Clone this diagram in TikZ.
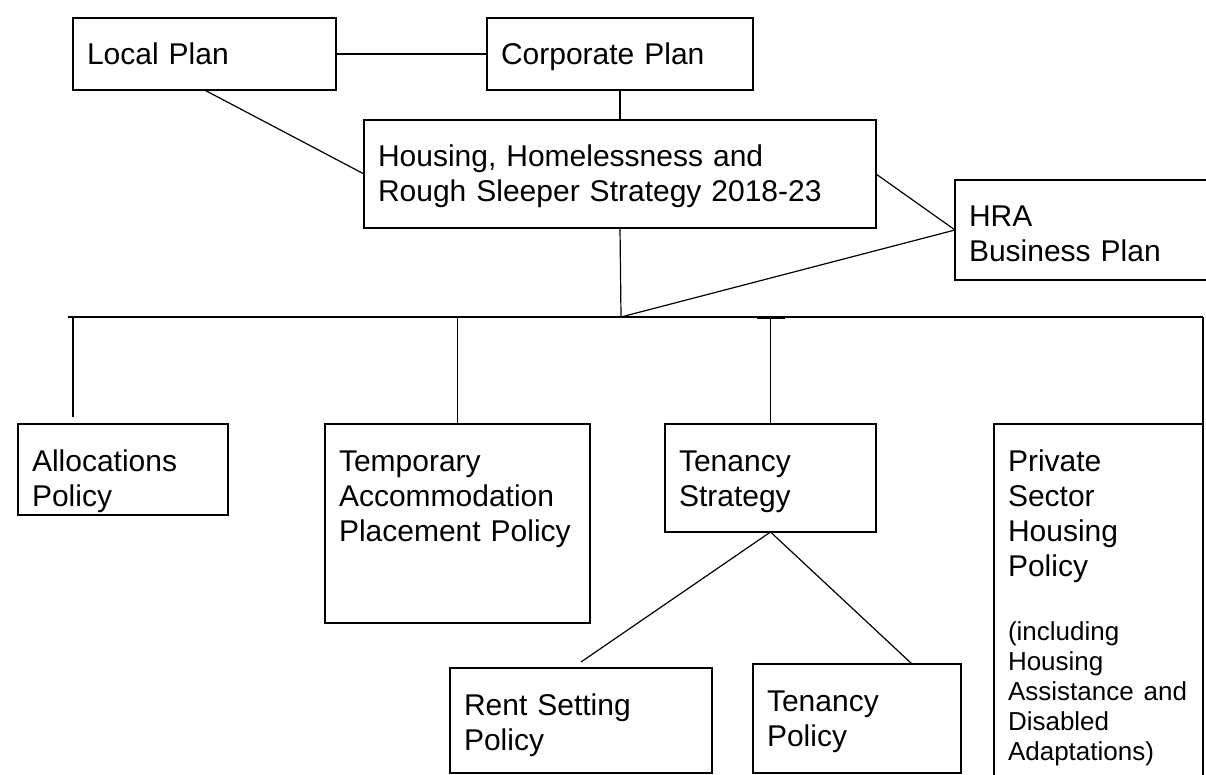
\documentclass[tikz,border=0pt]{standalone}
\usepackage{fontspec}
\setmainfont{Liberation Sans}

\begin{document}
\begin{tikzpicture}[x=1pt, y=1pt, line width=1.2pt,
    every node/.style={font=\fontsize{30}{35}\selectfont},
    box/.style={draw, line width=2.4pt, anchor=north west, outer sep=0pt, align=left,
      inner xsep=14pt, inner ysep=25pt, text height=22pt}]
  \useasboundingbox (0,0) rectangle (1206,-775);
  \clip (0,0) rectangle (1206,-775);

  \node[box, text width=235pt, text depth=0pt] (local) at (73,-18) {Local Plan};
  \node[box, text width=238pt, text depth=0pt] (corp) at (487,-18) {Corporate Plan};
  \node[box, text width=484pt, text depth=36pt] (housing) at (364,-120) {Housing, Homelessness and\\Rough Sleeper Strategy 2018-23};
  \node[box, text width=233pt, text depth=28pt] (hra) at (955,-180) {HRA\\Business Plan};

  \node[box, text width=182pt, text depth=19pt] (alloc) at (18,-424) {Allocations\\Policy};
  \node[box, text width=237pt, text depth=127pt] (temp) at (325,-424) {Temporary\\Accommodation\\Placement Policy};
  \node[box, text width=183pt, text depth=36pt] (tstrat) at (665,-424) {Tenancy\\Strategy};
  \node[box, text width=181pt, text depth=294pt] (private) at (994,-424) {Private\\Sector\\Housing\\Policy\par\vspace{34pt}%
    {\fontsize{26}{30}\selectfont(including\\Housing\\Assistance and\\Disabled\\Adaptations)\par}};
  \node[box, text width=234pt, text depth=33pt] (rent) at (450,-668) {Rent Setting\\Policy};
  \node[box, text width=180pt, text depth=37pt] (tenpol) at (753,-664) {Tenancy\\Policy};

  \coordinate (bus) at (621,-317);
  \coordinate (busL) at (68,-317);
  \coordinate (busR) at (1203,-317);
  \coordinate (adrop) at ([xshift=55pt,yshift=7pt]alloc.north west);

  \draw (local) -- (corp);
  \draw (corp) -- (housing);
  \draw (local.south) -- (housing.west);
  \draw (housing.east) -- (hra.west);
  \draw (hra.west) -- (bus);
  \draw (housing.south) -- (bus);
  \draw (busL) -- (busR);
  \draw (adrop |- bus) -- (adrop);
  \draw (temp.north |- bus) -- (temp);
  \draw (tstrat.north |- bus) -- (tstrat);
  \draw[line width=3pt] ([xshift=-14pt]tstrat.north |- bus) -- ([xshift=14pt]tstrat.north |- bus);
  \draw (busR) -- (private.north east);
  \draw (tstrat.south) -- ([yshift=6pt]rent.north);
  \draw (tstrat.south) -- ([xshift=-49pt]tenpol.north east);
\end{tikzpicture}
\end{document}
